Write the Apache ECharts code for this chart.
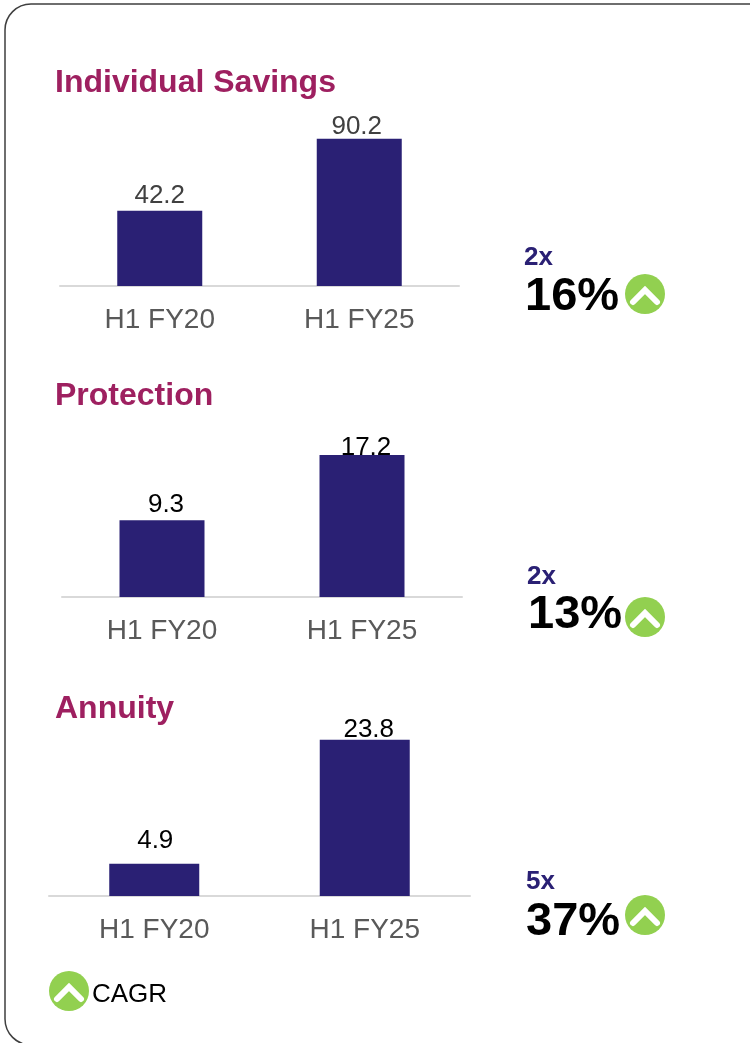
<!DOCTYPE html>
<html><head><meta charset="utf-8">
<style>html,body{margin:0;padding:0;background:#fff}#c{width:750px;height:1043px}</style>
<script src="https://cdn.jsdelivr.net/npm/echarts@6/dist/echarts.min.js"></script>
</head><body><div id="c"></div>
<script>
const categories = ['H1 FY20', 'H1 FY25'];
const sectionTitles = ['Individual Savings', 'Protection', 'Annuity'];
const savingsValues = [42.2, 90.2];
const protectionValues = [9.3, 17.2];
const annuityValues = [4.9, 23.8];
const multiples = ['2x', '2x', '5x'];
const cagrs = ['16%', '13%', '37%'];
const legendLabel = 'CAGR';

const FONT = '"Liberation Sans", Arial, sans-serif';
const BAR = '#2a2074', TITLE = '#9e2060', GREEN = '#92d050';

// axisFloor: the reference's first panel has a value axis that starts below zero, so bars rise from this value
const panels = [
  {left: 60, width: 399, top: 136, height: 150, axisFloor: -8, max: 92, barW: 85, vals: savingsValues, lc: '#404040', offs: [[0, 0], [-2.5, 3]], behind: false},
  {left: 62, width: 400, top: 432, height: 165, axisFloor: 0, max: 20, barW: 85, vals: protectionValues, lc: '#000', offs: [[4, -5], [4, 3]], behind: true},
  {left: 49, width: 421, top: 732, height: 164, axisFloor: 0, max: 25, barW: 90, vals: annuityValues, lc: '#000', offs: [[1, -8], [4, 5]], behind: false}
];
const grid = [], xAxis = [], yAxis = [], series = [];
panels.forEach((p, i) => {
  const shift = -p.axisFloor;
  grid.push({left: p.left, width: p.width, top: p.top, height: p.height});
  xAxis.push({type: 'category', gridIndex: i, data: categories,
    axisTick: {show: false},
    axisLine: {lineStyle: {color: '#d9d9d9', width: 2}},
    axisLabel: {color: '#595959', fontSize: 28, fontFamily: FONT, margin: 20}});
  yAxis.push({type: 'value', gridIndex: i, min: 0, max: p.max + shift, show: false, splitLine: {show: false}});
  const lab = {show: true, position: 'top', color: p.lc, opacity: 1, fontSize: 26, fontFamily: FONT, distance: p.behind ? -3 : 2};
  const points = p.vals.map((v, k) => ({value: v, label: {offset: p.offs[k], color: p.lc}}));
  if (shift) {
    series.push({type: 'bar', stack: 'p' + i, xAxisIndex: i, yAxisIndex: i, data: p.vals.map(() => shift), barWidth: p.barW, z: 3,
      itemStyle: {color: BAR}, animation: false});
  }
  series.push({type: 'bar', stack: 'p' + i, xAxisIndex: i, yAxisIndex: i, data: p.behind ? p.vals : points, barWidth: p.barW, z: 3,
    itemStyle: {color: BAR}, label: p.behind ? {show: false} : lab, animation: false});
  if (p.behind) {
    series.push({type: 'scatter', xAxisIndex: i, yAxisIndex: i, data: points, symbolSize: 1, z: 1,
      itemStyle: {color: '#fff', opacity: 1}, label: lab, animation: false});
  }
});

const titlesPos = [[55, 67], [55, 380], [55, 693]];
const title = sectionTitles.map((t, i) => ({text: t, left: titlesPos[i][0], top: titlesPos[i][1], padding: 0,
  textStyle: {color: TITLE, fontSize: 32, fontWeight: 'bold', fontFamily: FONT}}));

function icon(cx, cy) {
  return [
    {type: 'circle', shape: {cx, cy, r: 20}, style: {fill: GREEN}},
    {type: 'polyline', shape: {points: [[cx - 12, cy + 8], [cx, cy - 4], [cx + 12, cy + 8]]},
     style: {stroke: '#fff', lineWidth: 6, fill: null, lineCap: 'round'}}
  ];
}
function txt(x, y, text, size, weight, color) {
  return {type: 'text', x, y, style: {text, font: `${weight} ${size}px ${FONT}`, fill: color, textVerticalAlign: 'middle'}};
}
const statPos = [
  {mx: 524, my: 258, cx: 525, cy: 297, ix: 645, iy: 294},
  {mx: 527, my: 577, cx: 528, cy: 615, ix: 645, iy: 617},
  {mx: 526, my: 882, cx: 526, cy: 922, ix: 645, iy: 915}
];
const graphic = [
  {type: 'rect', shape: {x: 5, y: 4, width: 800, height: 1041, r: 26}, style: {fill: '#fff', stroke: '#3f3f3f', lineWidth: 1.5}, z: -10}
];
statPos.forEach((s, i) => {
  graphic.push(txt(s.mx, s.my, multiples[i], 26, 'bold', BAR));
  graphic.push(txt(s.cx, s.cy, cagrs[i], 47, 'bold', '#000'));
  graphic.push(...icon(s.ix, s.iy));
});
graphic.push(...icon(69, 991));
graphic.push(txt(92, 995, legendLabel, 26, 'normal', '#000'));

const chart = echarts.init(document.getElementById('c'), null, {renderer: 'canvas'});
chart.setOption({animation: false, backgroundColor: '#fff', title, grid, xAxis, yAxis, series, graphic});
</script></body></html>
